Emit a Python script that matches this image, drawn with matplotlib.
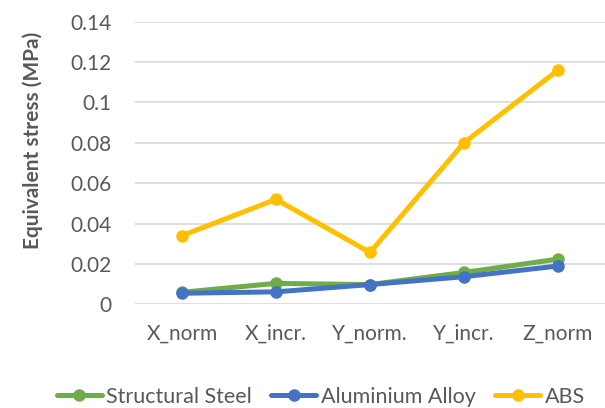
import matplotlib.pyplot as plt

# Stress per build orientation and material
orientations = ['X_norm', 'X_incr.', 'Y_norm.', 'Y_incr.', 'Z_norm']
structural_steel = [0.006, 0.0104, 0.0098, 0.0158, 0.0224]
aluminium_alloy = [0.0055, 0.0062, 0.0098, 0.0137, 0.019]
abs_plastic = [0.034, 0.052, 0.0257, 0.080, 0.116]

plt.rcParams['font.family'] = ['Lato', 'DejaVu Sans']
text_gray = '#595959'

fig = plt.figure(figsize=(6.05, 4.08), dpi=100)
ax = fig.add_axes([0.223, 0.254, 0.777, 0.693])

x = range(len(orientations))
style = dict(linewidth=3.6, marker='o', markersize=8, solid_capstyle='round')
ax.plot(x, structural_steel, color='#70AD47', label='Structural Steel', **style)
ax.plot(x, aluminium_alloy, color='#4472C4', label='Aluminium Alloy', **style)
ax.plot(x, abs_plastic, color='#FFC000', label='ABS', **style)

ax.set_xlim(-0.5, len(orientations) - 0.5)
ax.set_ylim(0, 0.14)
ax.set_yticks([0, 0.02, 0.04, 0.06, 0.08, 0.1, 0.12, 0.14])
ax.set_yticklabels(['0', '0.02', '0.04', '0.06', '0.08', '0.1', '0.12', '0.14'])
ax.set_xticks(list(x))
ax.set_xticklabels(orientations)
ax.tick_params(length=0, labelsize=15, labelcolor=text_gray)
ax.tick_params(axis='x', pad=14)
ax.tick_params(axis='y', pad=17)
ax.grid(axis='y', color='#D9D9D9', linewidth=1.2)
ax.set_axisbelow(True)
for s in ax.spines.values():
    s.set_visible(False)

ax.set_ylabel('Equivalent stress (MPa)', fontsize=15, fontweight='bold',
              color=text_gray)
ax.yaxis.set_label_coords(-0.196, 0.58)

fig.legend(loc='lower center', bbox_to_anchor=(0.53, -0.045), ncol=3, frameon=False,
           fontsize=15.5, labelcolor=text_gray, handlelength=2.1, handletextpad=0.2,
           columnspacing=0.9)

fig.savefig('out.png', dpi=100)
